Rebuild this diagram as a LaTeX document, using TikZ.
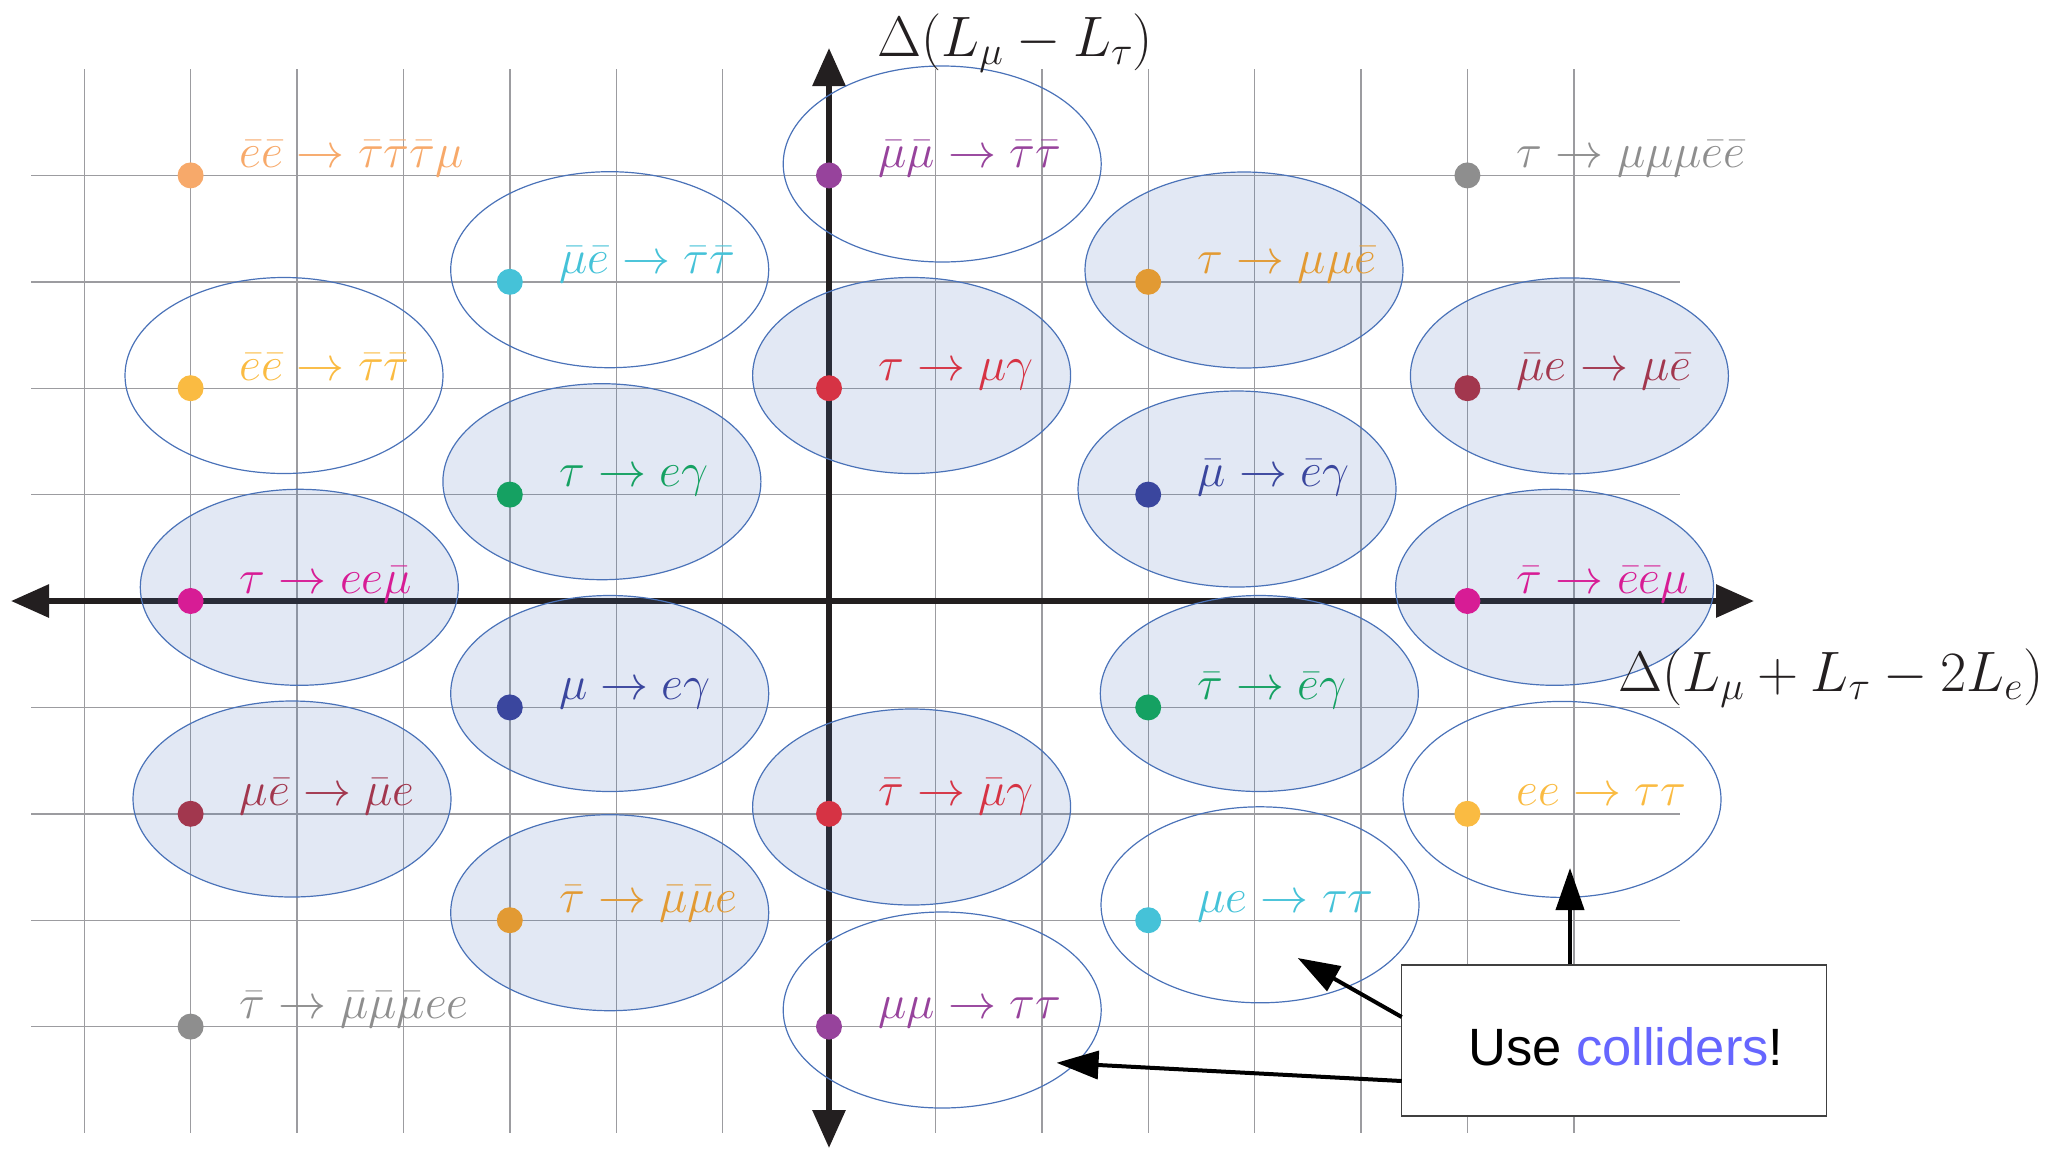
\RequirePackage{fix-cm}
\documentclass[tikz,border=0pt]{standalone}
\usepackage{fontspec}
\newfontfamily\arialfont{Liberation Sans}
\usetikzlibrary{arrows.meta}
\definecolor{cpeach}{HTML}{F7A96A}
\definecolor{ccyan}{HTML}{45C2D8}
\definecolor{cpurple}{HTML}{97439C}
\definecolor{corange}{HTML}{E29A33}
\definecolor{cgray}{HTML}{8E8E8E}
\definecolor{cyellow}{HTML}{FABB42}
\definecolor{cred}{HTML}{D63344}
\definecolor{cdarkred}{HTML}{A2374E}
\definecolor{cgreen}{HTML}{15A162}
\definecolor{cdarkblue}{HTML}{3A469E}
\definecolor{cmagenta}{HTML}{D71C95}
\definecolor{axiscol}{HTML}{231F20}
\definecolor{ellcol}{HTML}{4A72B8}
\definecolor{gridcol}{HTML}{9C9CA0}
\definecolor{collcol}{HTML}{6666FF}
\definecolor{boxcol}{HTML}{404040}
\tikzset{
  gridline/.style={draw=gridcol, line width=1.4pt},
  axisline/.style={draw=axiscol, line width=6pt,
    {Triangle[length=38pt,width=32pt]}-{Triangle[length=38pt,width=32pt]}},
  ellopen/.style={draw=ellcol, line width=1.2pt},
  ellfill/.style={draw=ellcol, line width=1.2pt, fill=ellcol, fill opacity=0.16},
  dotnode/.style={circle, inner sep=0pt, minimum size=26pt},
  labnode/.style={anchor=base west, inner sep=0pt, font=\fontsize{48}{58}\selectfont},
  axlab/.style={anchor=base west, inner sep=0pt, text=axiscol, font=\fontsize{57}{68}\selectfont},
  callout/.style={draw=black, line width=4pt, -{Triangle[length=42pt,width=28pt]}}
}
\begin{document}
\begin{tikzpicture}[x=1pt,y=-1pt]
\useasboundingbox (0,0) rectangle (2055,1152);
% grid
\foreach \i in {-7,...,7} \draw[gridline] ({829+106.4*\i},69) -- ({829+106.4*\i},1133);
\foreach \j in {-4,...,4} \draw[gridline] (31,{601-106.4*\j}) -- (1680,{601-106.4*\j});
% axes
\coordinate (xl) at (11,601);
\coordinate (xr) at (1754,601);
\coordinate (yt) at (829,48);
\coordinate (yb) at (829,1148);
\draw[axisline] (xl) -- (xr);
\draw[axisline] (yb) -- (yt);
% ellipses
\foreach \cx/\cy in {609.7/269.7, 942.2/164, 284/375.5, 1562/799.4, 1260/904.8, 942.2/1010}
  \draw[ellopen] (\cx,\cy) ellipse [x radius=159pt, y radius=98pt];
\foreach \cx/\cy in {1244/270, 911.6/375.5, 1569.4/375.9, 601.9/481.7, 1237/489, 299.3/587.3,
  1554.6/587.3, 609.7/693.5, 1259.3/693.5, 292/799, 911.6/807, 609.7/912.7}
  \draw[ellfill] (\cx,\cy) ellipse [x radius=159pt, y radius=98pt];
% dots and labels
\foreach \n/\i/\j/\c/\t in {
  a/-6/4/cpeach/{\bar e\bar e\to\bar\tau\bar\tau\bar\tau\mu},
  b/-3/3/ccyan/{\bar\mu\bar e\to\bar\tau\bar\tau},
  c/0/4/cpurple/{\bar\mu\bar\mu\to\bar\tau\bar\tau},
  d/3/3/corange/{\tau\to\mu\mu\bar e},
  e/6/4/cgray/{\tau\to\mu\mu\mu\bar e\bar e},
  f/-6/2/cyellow/{\bar e\bar e\to\bar\tau\bar\tau},
  g/0/2/cred/{\tau\to\mu\gamma},
  h/6/2/cdarkred/{\bar\mu e\to\mu\bar e},
  k/-3/1/cgreen/{\tau\to e\gamma},
  l/3/1/cdarkblue/{\bar\mu\to\bar e\gamma},
  m/-6/0/cmagenta/{\tau\to ee\bar\mu},
  n/6/0/cmagenta/{\bar\tau\to\bar e\bar e\mu},
  o/-3/-1/cdarkblue/{\mu\to e\gamma},
  p/3/-1/cgreen/{\bar\tau\to\bar e\gamma},
  q/-6/-2/cdarkred/{\mu\bar e\to\bar\mu e},
  r/0/-2/cred/{\bar\tau\to\bar\mu\gamma},
  s/6/-2/cyellow/{ee\to\tau\tau},
  t/-3/-3/corange/{\bar\tau\to\bar\mu\bar\mu e},
  u/3/-3/ccyan/{\mu e\to\tau\tau},
  v/-6/-4/cgray/{\bar\tau\to\bar\mu\bar\mu\bar\mu ee},
  w/0/-4/cpurple/{\mu\mu\to\tau\tau}} {
  \node[dotnode, fill=\c] (dot\n) at ({829+106.4*\i},{601-106.4*\j}) {};
  \node[labnode, text=\c] (lab\n) at ([xshift=49pt, yshift=8pt]dot\n.center) {$\t$};
}
% axis labels
\node[axlab] (ylab) at (877,56) {$\Delta(L_\mu-L_\tau)$};
\node[axlab] (xlab) at (1618,691) {$\Delta(L_\mu+L_\tau-2L_e)$};
% callout box
\node[draw=boxcol, line width=1.5pt, fill=white, minimum width=425pt, minimum height=151pt, inner sep=0pt] (box) at (1614.2,1040.5) {};
\node[anchor=base, inner sep=0pt, font=\arialfont\fontsize{52.5}{63}\selectfont] (boxtext) at (1625.8,1065) {Use \textcolor{collcol}{colliders}!};
\coordinate (t1) at (1570,868);
\coordinate (s2) at (1401.7,1017);
\coordinate (t2) at (1297.7,958);
\coordinate (s3) at (1401.7,1081);
\coordinate (t3) at (1056.5,1062.8);
\draw[callout] (box.north -| t1) -- (t1);
\draw[callout] (s2) -- (t2);
\draw[callout] (s3) -- (t3);
\end{tikzpicture}
\end{document}
